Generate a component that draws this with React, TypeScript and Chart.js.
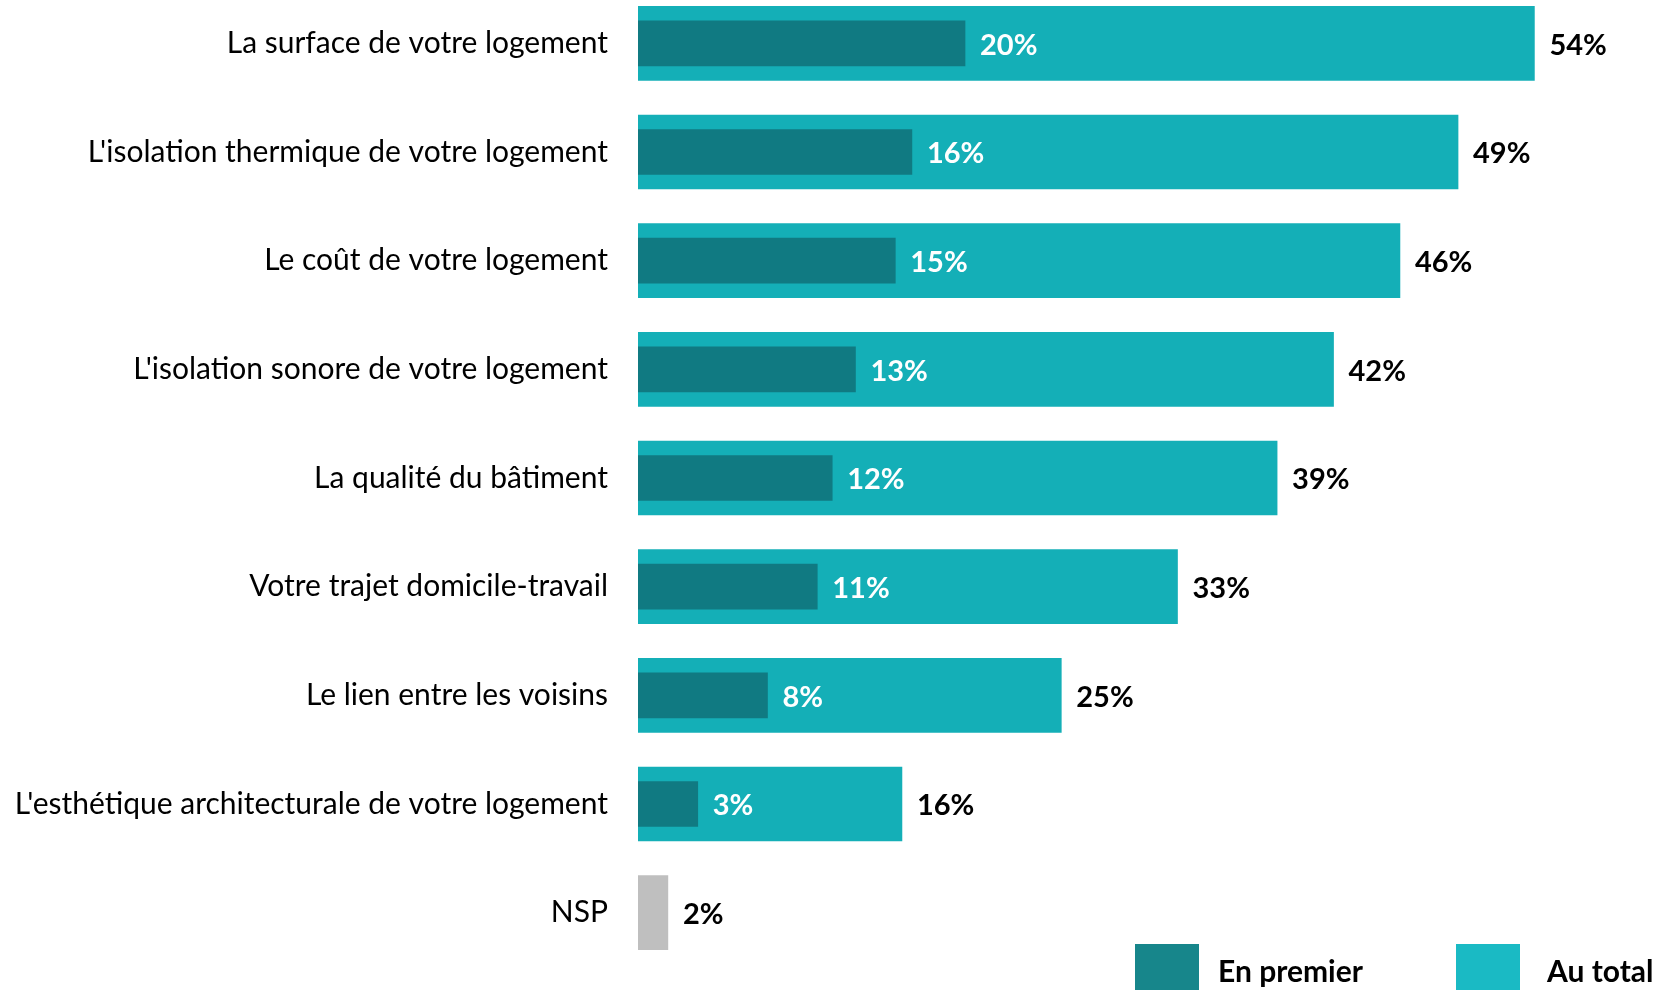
import React, { useEffect, useRef } from "react";
import { Chart, registerables } from "chart.js";

Chart.register(...registerables);

const categories = [
  "La surface de votre logement",
  "L'isolation thermique de votre logement",
  "Le coût de votre logement",
  "L'isolation sonore de votre logement",
  "La qualité du bâtiment",
  "Votre trajet domicile-travail",
  "Le lien entre les voisins",
  "L'esthétique architecturale de votre logement",
  "NSP",
];
// bar lengths
const enPremier: (number | null)[] = [19.7, 16.5, 15.5, 13.1, 11.7, 10.8, 7.8, 3.6, null];
const auTotal: number[] = [54, 49.4, 45.9, 41.9, 38.5, 32.5, 25.5, 15.9, 1.8];
// printed value labels
const enPremierLabels: (string | null)[] = ["20%", "16%", "15%", "13%", "12%", "11%", "8%", "3%", null];
const auTotalLabels: string[] = ["54%", "49%", "46%", "42%", "39%", "33%", "25%", "16%", "2%"];
const seriesNames = ["En premier", "Au total"];

const DARK = "#107A82";
const LIGHT = "#14AFB7";
const GREY = "#BFBFBF";
const LEG_DARK = "#17868B";
const LEG_LIGHT = "#1ABAC4";
const FONT = "Lato, 'Noto Sans', sans-serif";

const labelsPlugin = {
  id: "valueLabels",
  afterDatasetsDraw(chart: any) {
    const ctx = chart.ctx;
    ctx.save();
    ctx.textBaseline = "middle";
    ctx.textAlign = "left";
    ctx.font = `bold 29px ${FONT}`;
    const m1 = chart.getDatasetMeta(1);
    m1.data.forEach((el: any, i: number) => {
      const t = auTotalLabels[i];
      if (!t) return;
      ctx.fillStyle = "#000";
      ctx.fillText(t, el.x + 15, el.y + 2);
    });
    const m0 = chart.getDatasetMeta(0);
    m0.data.forEach((el: any, i: number) => {
      const t = enPremierLabels[i];
      if (!t || chart.data.datasets[0].data[i] == null) return;
      ctx.fillStyle = "#fff";
      ctx.fillText(t, el.x + 15, el.y + 2);
    });
    ctx.restore();
  },
};

const legendPlugin = {
  id: "customLegend",
  afterDraw(chart: any) {
    const ctx = chart.ctx;
    ctx.save();
    const cols = [LEG_DARK, LEG_LIGHT];
    const xs = [1135, 1456];
    const textX = [1218, 1547];
    const top = 956; // canvas coords (page y + 12)
    ctx.font = `bold 30px ${FONT}`;
    ctx.textBaseline = "middle";
    ctx.textAlign = "left";
    chart.data.datasets.forEach((ds: any, i: number) => {
      ctx.fillStyle = cols[i];
      ctx.fillRect(xs[i], top, 64, 60);
      ctx.fillStyle = "#000";
      ctx.fillText(ds.label, textX[i], top + 28);
    });
    ctx.restore();
  },
};

export default function App() {
  const ref = useRef<HTMLCanvasElement>(null);
  useEffect(() => {
    if (!ref.current) return;
    const chart = new Chart(ref.current, {
      type: "bar",
      data: {
        labels: categories,
        datasets: [
          {
            label: seriesNames[0],
            data: enPremier,
            backgroundColor: DARK,
            barThickness: 45,
            grouped: false,
          } as any,
          {
            label: seriesNames[1],
            data: auTotal,
            backgroundColor: auTotal.map((_, i) => (categories[i] === "NSP" ? GREY : LIGHT)),
            barThickness: 74,
            grouped: false,
          } as any,
        ],
      },
      options: {
        indexAxis: "y",
        animation: false,
        responsive: false,
        devicePixelRatio: 1,
        layout: { padding: { top: 1, bottom: 23, left: 0, right: 24 } },
        plugins: { legend: { display: false }, tooltip: { enabled: false } },
        scales: {
          x: { display: false, min: 0, max: 60 },
          y: {
            grid: { display: false, drawTicks: false },
            border: { display: false },
            afterFit(scale: any) {
              scale.width = 638;
              scale.paddingTop = 0;
              scale.paddingBottom = 0;
            },
            ticks: {
              padding: 30,
              color: "#000",
              font: { family: FONT, size: 30 },
            },
          },
        },
      },
      plugins: [labelsPlugin, legendPlugin],
    });
    return () => chart.destroy();
  }, []);
  return (
    <div style={{ position: "absolute", left: 0, top: -12, width: 1658, height: 1002 }}>
      <canvas ref={ref} width={1658} height={1002} style={{ width: 1658, height: 1002 }} />
    </div>
  );
}
